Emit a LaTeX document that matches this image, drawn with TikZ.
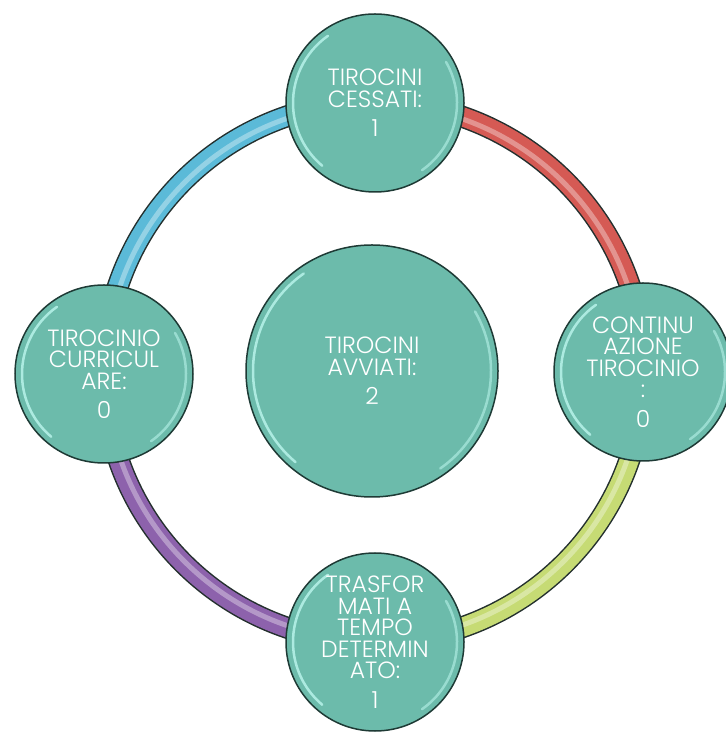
\documentclass[tikz,border=0pt]{standalone}
\usepackage{fontspec}
\setmainfont{Poppins}[UprightFont=* Light]
\definecolor{bubfill}{HTML}{6CBBAB}
\definecolor{bubline}{HTML}{1E3A35}
\definecolor{ringline}{HTML}{24302E}
\definecolor{arcblue}{HTML}{5BBAD8}
\definecolor{arcred}{HTML}{D55A54}
\definecolor{arcgreen}{HTML}{C6DB74}
\definecolor{arcpurple}{HTML}{8D62AC}
\definecolor{hlcol}{HTML}{B8F3EA}
\begin{document}
\begin{tikzpicture}[x=1pt,y=1pt,
  bub/.style={circle, fill=bubfill, draw=bubline, line width=1.5pt, minimum size=178pt, inner sep=0pt},
  bigbub/.style={bub, minimum size=252pt},
  lbl/.style={text=white, align=center, font=\fontsize{23.5}{21.5}\selectfont},
  ringband/.style={line width=19pt},
  ringshine/.style={line width=5pt, white, opacity=0.35},
  bevel/.style={line width=2.5pt, hlcol, opacity=0.85, line cap=round},
]
\useasboundingbox (0,0) rectangle (725,733);
\coordinate (ring) at (374,361);
% ring band
\draw[line width=22pt, ringline] (ring) circle[radius=270];
\draw[ringband, arcblue] (ring) ++(90:270) arc[start angle=90, end angle=180, radius=270];
\draw[ringband, arcred] (ring) ++(0:270) arc[start angle=0, end angle=90, radius=270];
\draw[ringband, arcgreen] (ring) ++(-90:270) arc[start angle=-90, end angle=0, radius=270];
\draw[ringband, arcpurple] (ring) ++(180:270) arc[start angle=180, end angle=270, radius=270];
\draw[ringshine] (ring) circle[radius=268];
% circles
\node[bub] (top) at (375,630) {};
\node[bub] (right) at (643,361) {};
\node[bub] (bottom) at (375,91) {};
\node[bub] (left) at (104,359) {};
\node[bigbub] (center) at (372,362) {};
% bevel highlights
\foreach \n/\r in {top/82,right/82,bottom/82,left/82,center/119}{
  \draw[bevel] (\n.center) ++(125:\r) arc[start angle=125, end angle=230, radius=\r];
  \draw[bevel, opacity=0.6] (\n.center) ++(-55:\r) arc[start angle=-55, end angle=30, radius=\r];
}
% labels
\node[lbl] (toptxt) at (top) {TIROCINI\\CESSATI:\\[8pt]1};
\node[lbl] (righttxt) at (right) {CONTINU\\AZIONE\\TIROCINIO\\:\\[8pt]0};
\node[lbl] (bottomtxt) at (bottom) {TRASFOR\\MATI A\\TEMPO\\DETERMIN\\ATO:\\[8pt]1};
\node[lbl] (lefttxt) at (left) {TIROCINIO\\CURRICUL\\ARE:\\[8pt]0};
\node[lbl] (centertxt) at (center) {TIROCINI\\AVVIATI:\\[8pt]2};
\end{tikzpicture}
\end{document}
